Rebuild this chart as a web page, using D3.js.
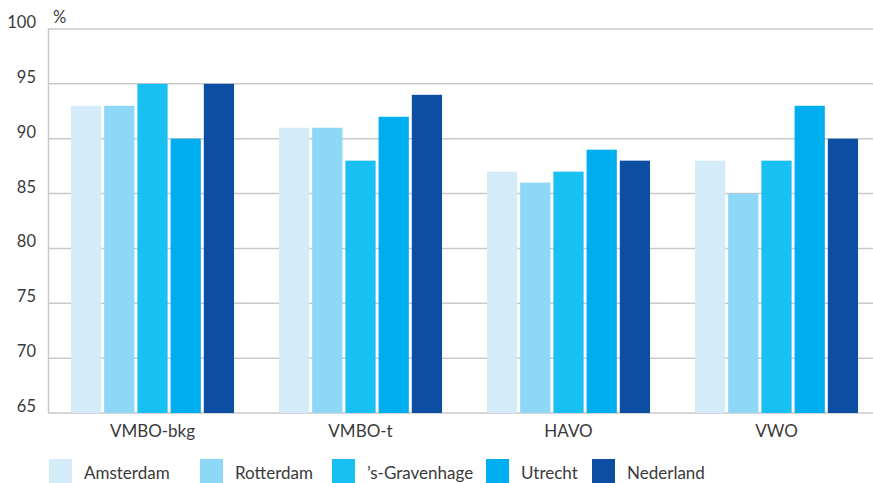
<!DOCTYPE html>
<html><head><meta charset="utf-8">
<script src="https://cdn.jsdelivr.net/npm/d3@7"></script>
<style>
html,body{margin:0;padding:0;background:#fff;}
svg{display:block;font-family:Lato,"Open Sans",sans-serif;}
</style></head>
<body><div id="chart"></div>
<script>
const categories = ["VMBO-bkg","VMBO-t","HAVO","VWO"];
const seriesNames = ["Amsterdam","Rotterdam","\u2019s-Gravenhage","Utrecht","Nederland"];
const amsterdam = [93,91,87,88];
const rotterdam = [93,91,86,85];
const gravenhage = [95,88,87,88];
const utrecht = [90,92,89,93];
const nederland = [95,94,88,90];
const yTicks = [65,70,75,80,85,90,95,100];
const colors = ["#d4ecf9","#8dd8f6","#17c0f1","#00aeef","#0b4ea2"];

const series = [amsterdam,rotterdam,gravenhage,utrecht,nederland];
const W=873,H=483;
const svg=d3.select("#chart").append("svg").attr("width",W).attr("height",H);

const y=d3.scaleLinear().domain([65,100]).range([413,29]);
const x0=d3.scaleBand().domain(categories).range([48.5,880.5]).paddingInner(0.216).paddingOuter(0.108);
const x1=d3.scaleBand().domain(seriesNames).range([0,x0.bandwidth()]).paddingInner(0.09);

// gridlines
svg.append("g").selectAll("line").data(yTicks).join("line")
  .attr("x1",48).attr("x2",W).attr("y1",d=>y(d)).attr("y2",d=>y(d))
  .attr("stroke","#c9c9cb").attr("stroke-width",1.5);
svg.append("line").attr("x1",48.5).attr("x2",48.5).attr("y1",y(100)).attr("y2",y(65))
  .attr("stroke","#c9c9cb").attr("stroke-width",1.5);

// y labels
svg.append("g").selectAll("text").data(yTicks).join("text")
  .attr("x",36).attr("y",d=>y(d)-1).attr("text-anchor","end")
  .attr("font-size",16.5).attr("fill","#3a3a3a").text(d=>d);
svg.append("text").attr("x",53).attr("y",23).attr("font-size",16.5).attr("fill","#3a3a3a").text("%");

// bars
const g=svg.append("g").selectAll("g").data(categories).join("g")
  .attr("transform",d=>`translate(${x0(d)},0)`);
g.selectAll("rect").data((c,i)=>series.map((s,j)=>({name:seriesNames[j],v:s[i],j}))).join("rect")
  .attr("x",d=>x1(d.name)).attr("width",x1.bandwidth())
  .attr("y",d=>y(d.v)).attr("height",d=>y(65)-y(d.v))
  .attr("fill",d=>colors[d.j]);

// x labels
svg.append("g").selectAll("text").data(categories).join("text")
  .attr("x",d=>x0(d)+x0.bandwidth()/2).attr("y",437).attr("text-anchor","middle")
  .attr("font-size",17).attr("fill","#3a3a3a").text(d=>d);

// legend
const legX=[49,200,332,486,592];
const lg=svg.append("g").selectAll("g").data(seriesNames).join("g")
  .attr("transform",(d,i)=>`translate(${legX[i]},459)`);
lg.append("rect").attr("width",23).attr("height",26).attr("fill",(d,i)=>colors[i]);
lg.append("text").attr("x",35).attr("y",20).attr("font-size",17).attr("fill","#3a3a3a").text(d=>d);
</script></body></html>
